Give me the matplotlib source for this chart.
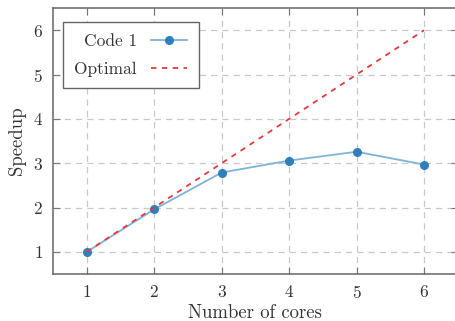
import numpy as np
import matplotlib.pyplot as plt

plt.rcParams['font.family'] = 'cmr10'
plt.rcParams['axes.formatter.use_mathtext'] = True

cores = [1, 2, 3, 4, 5, 6]
speedup = [1.0, 1.96, 2.79, 3.06, 3.26, 2.97]
optimal = [1, 2, 3, 4, 5, 6]

fig = plt.figure(figsize=(4.56, 3.21), dpi=100)
ax = fig.add_axes([0.116, 0.146, 0.888, 0.829])

ax.plot(cores, speedup, color='#7fb2d8', lw=1.3, marker='o', ms=5.5,
        mfc='#2f7fbd', mec='#2f7fbd', label='Code 1', zorder=3)
ax.plot(cores, optimal, color='#e8383d', lw=1.3, ls=(0, (3, 3)),
        label='Optimal', zorder=4)

ax.set_xlim(0.5, 6.5)
ax.set_ylim(0.5, 6.5)
ax.set_xticks(cores)
ax.set_yticks([1, 2, 3, 4, 5, 6])
ax.grid(True, color='#c8c8c8', lw=0.9, ls=(0, (5, 4)))
ax.set_axisbelow(True)
ax.tick_params(direction='in', length=5, color='#777777', labelsize=12.5,
               top=True, right=True, labelcolor='#333333', pad=7)
for s in ax.spines.values():
    s.set_color('#666666')
    s.set_linewidth(1.1)

ax.set_xlabel('Number of cores', fontsize=13.5, color='#333333', labelpad=2)
ax.set_ylabel('Speedup', fontsize=13.5, color='#333333', labelpad=5)

leg = ax.legend(loc='upper left', markerfirst=False, fontsize=12.5,
                fancybox=False, edgecolor='#666666', framealpha=1,
                borderpad=0.65, handlelength=2.1, labelspacing=0.75,
                borderaxespad=0, bbox_to_anchor=(0.025, 0.947))
leg.get_frame().set_linewidth(1.0)
for t in leg.get_texts():
    t.set_color('#333333')

fig.savefig('out.png', dpi=100)
